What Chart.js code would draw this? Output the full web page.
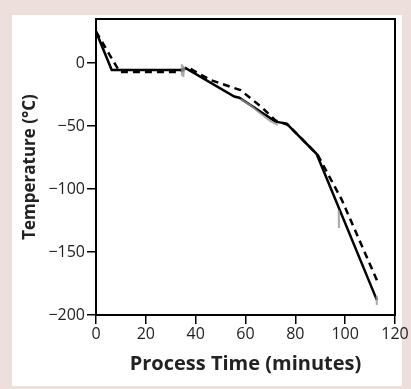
<!DOCTYPE html>
<html>
<head>
<meta charset="utf-8">
<script src="https://cdn.jsdelivr.net/npm/chart.js@4"></script>
<style>
  html, body { margin: 0; padding: 0; }
  body { width: 411px; height: 389px; background: #eddfdb; position: relative; overflow: hidden; }
  #panel { position: absolute; left: 12px; top: 15px; width: 390px; height: 371px; background: #fff; }
  #wrap { position: absolute; left: 0; top: 0; width: 411px; height: 389px; }
</style>
</head>
<body>
<div id="panel"></div>
<div id="wrap"><canvas id="chart"></canvas></div>
<script>
// courbe modèle (trait plein) : [minutes, °C]
const modelTime = [0, 6.3, 34, 36, 55.5, 57.5, 72, 76.5, 88.5, 112.7];
const modelTemp = [25, -5.5, -5.5, -4, -26.5, -27.5, -46.5, -48, -72, -188];

// courbe de consigne (pointillés)
const setTime = [0, 9.5, 34, 36.5, 46, 58, 66.5, 72, 77, 89, 98.5, 113.3];
const setTemp = [25, -7, -7, -3, -13.5, -21.5, -35, -45.5, -49, -73, -108, -175];

// mesures brutes (gris), null = interruption
const measTime = [34.4, 34.5, 34.9, 35.0, 35.5, 40, 58, 62, 66, 70, 73, 77, 97.4, 97.5, 100, 112.6, 112.7];
const measTemp = [-1, -10, -2, -11, -3, null, -28.5, -33.5, -40, -46, -49, null, -117, -131, null, -185, -192];

const xTicks = [0, 20, 40, 60, 80, 100, 120];
const yTicks = [0, -50, -100, -150, -200];

const toPts = (xs, ys) => xs.map((x, i) => ({ x, y: ys[i] }));
const minus = v => String(v).replace('-', '\u2212');

// cadre autour de la zone de tracé
const frame = {
  id: 'frame',
  afterDraw(chart) {
    const { ctx, chartArea: a } = chart;
    ctx.save();
    ctx.strokeStyle = '#000';
    ctx.lineWidth = 2;
    ctx.strokeRect(a.left, a.top, a.right - a.left, a.bottom - a.top);
    ctx.restore();
  }
};

new Chart(document.getElementById('chart'), {
  type: 'line',
  data: {
    datasets: [
      {
        label: 'Mesures',
        data: toPts(measTime, measTemp),
        borderColor: 'rgba(150,150,150,0.8)',
        borderWidth: 2,
        pointRadius: 0,
        spanGaps: false
      },
      {
        label: 'Consigne',
        data: toPts(setTime, setTemp),
        borderColor: '#000',
        borderWidth: 2.5,
        borderDash: [7, 5],
        pointRadius: 0
      },
      {
        label: 'Modèle',
        data: toPts(modelTime, modelTemp),
        borderColor: '#000',
        borderWidth: 2.5,
        pointRadius: 0
      }
    ]
  },
  options: {
    responsive: true,
    maintainAspectRatio: false,
    animation: false,
    layout: { padding: { left: 0, top: 19, right: 16, bottom: 0 } },
    plugins: { legend: { display: false }, tooltip: { enabled: false } },
    scales: {
      x: {
        type: 'linear',
        min: 0,
        max: 120,
        afterFit(s) { s.height = 74; },
        afterBuildTicks(s) { s.ticks = xTicks.map(v => ({ value: v })); },
        ticks: { color: '#222', font: { family: 'Open Sans', size: 16 }, padding: 1, maxRotation: 0 },
        grid: { drawOnChartArea: false, drawTicks: true, tickLength: 9, color: '#000', lineWidth: 1.5 },
        border: { display: true, color: '#000', width: 2 },
        title: {
          display: true,
          text: 'Process Time (minutes)',
          color: '#222',
          font: { family: 'Open Sans', size: 20, weight: 'bold' },
          padding: { top: 0, bottom: 13 }
        }
      },
      y: {
        min: -200,
        max: 35,
        afterFit(s) { s.width = 96; },
        afterBuildTicks(s) { s.ticks = yTicks.map(v => ({ value: v })); },
        ticks: { color: '#222', font: { family: 'Open Sans', size: 16 }, padding: 2, callback: v => minus(v) },
        grid: { drawOnChartArea: false, drawTicks: true, tickLength: 9, color: '#000', lineWidth: 1.5 },
        border: { display: true, color: '#000', width: 2 },
        title: {
          display: true,
          text: 'Temperature (°C)',
          color: '#222',
          font: { family: 'Open Sans', size: 17, weight: 'bold' },
          padding: { top: 20, bottom: 0 }
        }
      }
    }
  },
  plugins: [frame]
});
</script>
</body>
</html>
